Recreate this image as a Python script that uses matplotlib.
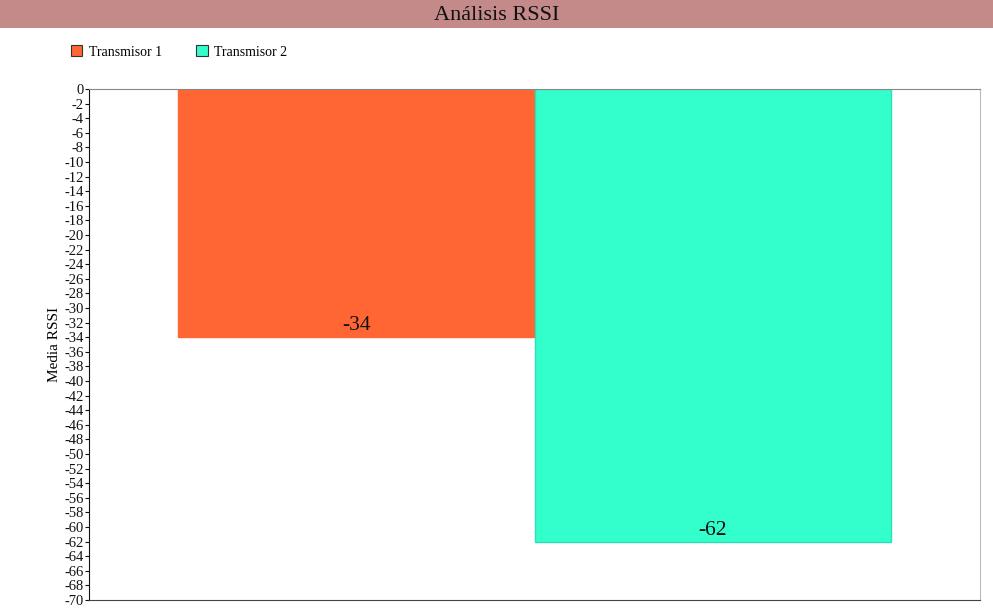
import numpy as np
import matplotlib.pyplot as plt
from matplotlib.patches import Rectangle, Patch

# data
series = ['Transmisor 1', 'Transmisor 2']
values = [-34, -62]
colors = ['#ff6633', '#33ffcc']
edges = ['#ff6633', '#2de0b4']

plt.rcParams['font.family'] = ['Liberation Serif', 'DejaVu Serif']
plt.rcParams['axes.unicode_minus'] = False

fig = plt.figure(figsize=(9.93, 6.10), dpi=100)

# title band
fig.patches.append(Rectangle((0, 1 - 28 / 610), 1, 28 / 610, transform=fig.transFigure,
                             facecolor='#c48a8a', edgecolor='none', zorder=0))
fig.text(0.5, 1 - 15 / 610, 'Análisis RSSI', ha='center', va='center', fontsize=16, color='#111111')

ax = fig.add_axes([89 / 993, 10 / 610, 891 / 993, 511 / 610])

width = 0.4
pos = np.array([-0.2, 0.2])
bars = ax.bar(pos, values, width=width, color=colors, edgecolor=edges, linewidth=1)

for x, v in zip(pos, values):
    ax.text(x, v + 0.25, str(v), ha='center', va='bottom', fontsize=15.5, color='#111111')

ax.set_xlim(-0.5, 0.5)
ax.set_ylim(-70, 0)
ax.set_yticks(np.arange(0, -71, -2))
ax.set_xticks([])
ax.tick_params(axis='y', labelsize=10.5, length=3, pad=1, colors='#111111')
ax.set_ylabel('Media RSSI', fontsize=11, labelpad=2)

ax.spines['left'].set_color('#111111')
ax.spines['bottom'].set_color('#444444')
ax.spines['top'].set_color('#888888')
ax.spines['right'].set_color('#bbbbbb')

handles = [Patch(facecolor=c, edgecolor='#333333', linewidth=0.8) for c in colors]
fig.legend(handles, series, loc='center left', bbox_to_anchor=(58 / 993, 1 - 52 / 610),
           ncol=2, frameon=False, fontsize=10, handlelength=0.85, handleheight=0.85,
           handletextpad=0.5, columnspacing=2.4)

fig.savefig('out.png', dpi=100)
